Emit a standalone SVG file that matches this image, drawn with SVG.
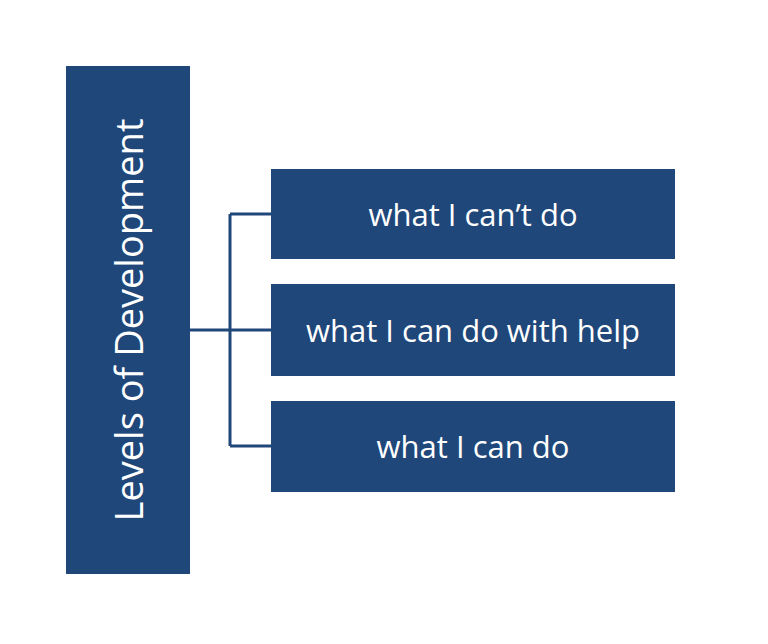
<svg xmlns="http://www.w3.org/2000/svg" width="768" height="644" viewBox="0 0 768 644">
<style>
.box{fill:#1F477A}
.t{fill:#fff;font-family:"Open Sans","Liberation Sans",sans-serif;text-anchor:middle;dominant-baseline:central}
.c{stroke:#1F477A;stroke-width:3;fill:none}
</style>
<rect width="768" height="644" fill="#fff"/>
<g id="connectors">
<path class="c" d="M190 330H230M230 214V446M230 214H271M230 330H271M230 446H271"/>
</g>
<g id="root"><rect class="box" x="66" y="66" width="124" height="508"/>
<text class="t" font-size="38" transform="translate(128 320) rotate(-90)">Levels of Development</text></g>
<g id="n1"><rect class="box" x="271" y="169" width="404" height="90"/><text class="t" x="473" y="214" font-size="31">what I can’t do</text></g>
<g id="n2"><rect class="box" x="271" y="284" width="404" height="92"/><text class="t" x="473" y="330" font-size="31">what I can do with help</text></g>
<g id="n3"><rect class="box" x="271" y="401" width="404" height="91"/><text class="t" x="473" y="446" font-size="31">what I can do</text></g>
</svg>
